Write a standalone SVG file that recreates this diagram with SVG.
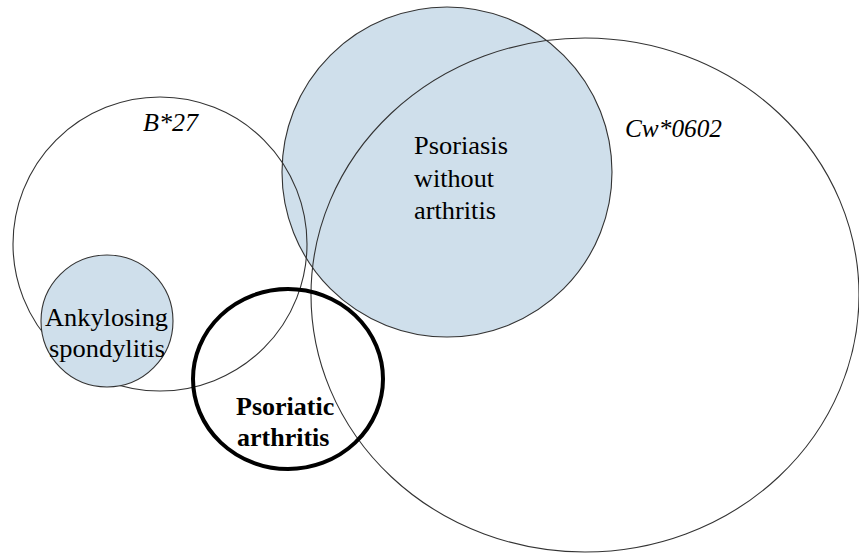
<svg xmlns="http://www.w3.org/2000/svg" width="859" height="554" viewBox="0 0 859 554">
<rect width="859" height="554" fill="#fff"/>
<g id="psoriasis">
<circle cx="447" cy="172" r="165" fill="#cfdfeb" stroke="#333" stroke-width="1.1"/>
<text x="414" y="154" font-family="Times New Roman, serif" font-size="26" textLength="94" lengthAdjust="spacingAndGlyphs">Psoriasis</text>
<text x="414" y="187" font-family="Times New Roman, serif" font-size="26" textLength="80" lengthAdjust="spacingAndGlyphs">without</text>
<text x="414" y="219" font-family="Times New Roman, serif" font-size="26" textLength="82" lengthAdjust="spacingAndGlyphs">arthritis</text>
</g>
<g id="b27">
<circle cx="160" cy="244" r="147" fill="none" stroke="#333" stroke-width="1.1"/>
<text x="143" y="131" font-family="Times New Roman, serif" font-size="25" font-style="italic" textLength="55" lengthAdjust="spacingAndGlyphs">B*27</text>
</g>
<g id="ankylosing">
<circle cx="107" cy="321" r="66" fill="#cfdfeb" stroke="#333" stroke-width="1.1"/>
<text x="45" y="326" font-family="Times New Roman, serif" font-size="26" textLength="123" lengthAdjust="spacingAndGlyphs">Ankylosing</text>
<text x="49" y="357" font-family="Times New Roman, serif" font-size="26" textLength="116" lengthAdjust="spacingAndGlyphs">spondylitis</text>
</g>
<g id="cw0602">
<ellipse cx="585" cy="295" rx="274" ry="257" fill="none" stroke="#333" stroke-width="1.1"/>
<text x="625" y="137" font-family="Times New Roman, serif" font-size="25" font-style="italic" textLength="97" lengthAdjust="spacingAndGlyphs">Cw*0602</text>
</g>
<g id="psoriatic-arthritis">
<ellipse cx="288" cy="379" rx="95" ry="90" fill="none" stroke="#000" stroke-width="4"/>
<text x="236" y="415" font-family="Liberation Serif, serif" font-size="26" font-weight="bold">Psoriatic</text>
<text x="237" y="446" font-family="Liberation Serif, serif" font-size="26" font-weight="bold">arthritis</text>
</g>
<g id="connectors"/>
</svg>
